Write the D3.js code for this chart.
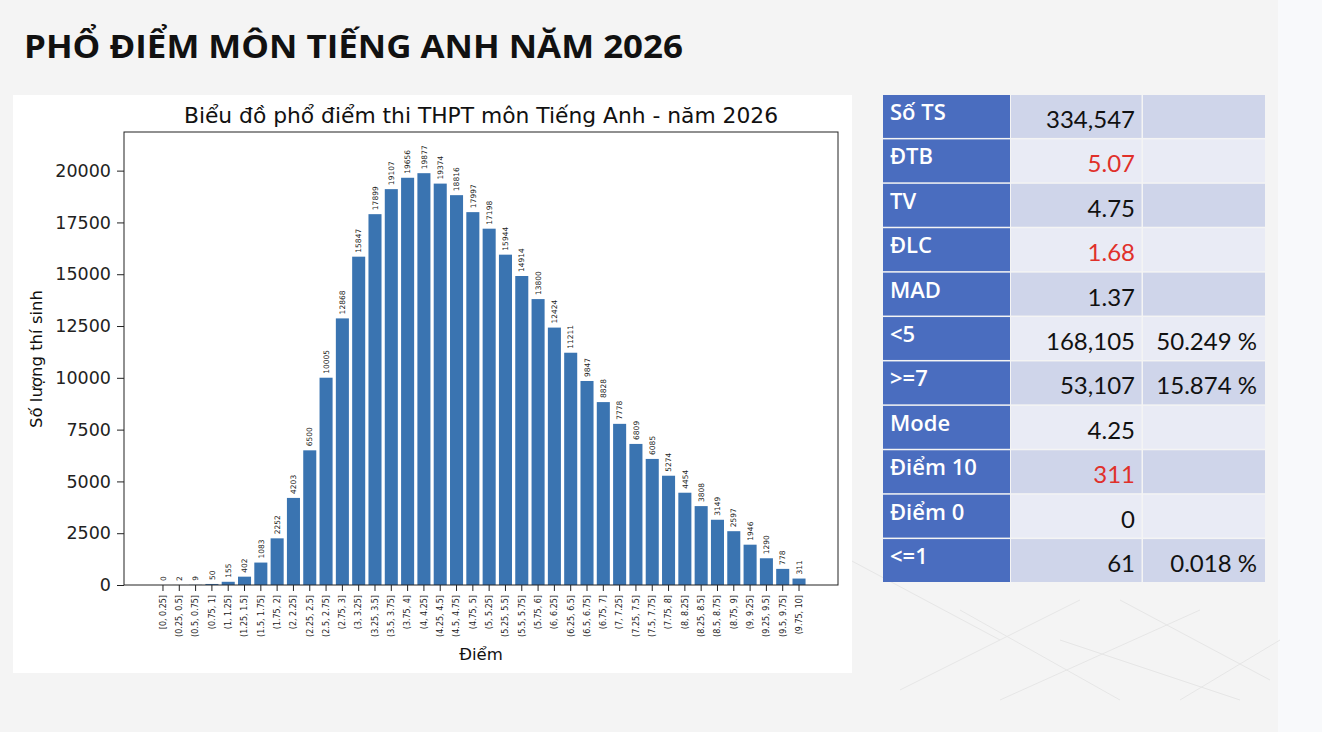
<!DOCTYPE html>
<html>
<head>
<meta charset="utf-8">
<script src="https://cdn.jsdelivr.net/npm/d3@7"></script>
<style>
  html, body { margin:0; padding:0; background:#f4f4f4; }
  svg { display:block; }
  .axis text { font-family:"DejaVu Sans", sans-serif; fill:#222; }
  .axis path, .axis line { stroke:#222; }
</style>
</head>
<body>
<svg id="chart" width="1322" height="732"></svg>
<script>
/* Dữ liệu phổ điểm */
const bins = ["[0, 0.25]","(0.25, 0.5]","(0.5, 0.75]","(0.75, 1]","(1, 1.25]","(1.25, 1.5]","(1.5, 1.75]","(1.75, 2]",
  "(2, 2.25]","(2.25, 2.5]","(2.5, 2.75]","(2.75, 3]","(3, 3.25]","(3.25, 3.5]","(3.5, 3.75]","(3.75, 4]",
  "(4, 4.25]","(4.25, 4.5]","(4.5, 4.75]","(4.75, 5]","(5, 5.25]","(5.25, 5.5]","(5.5, 5.75]","(5.75, 6]",
  "(6, 6.25]","(6.25, 6.5]","(6.5, 6.75]","(6.75, 7]","(7, 7.25]","(7.25, 7.5]","(7.5, 7.75]","(7.75, 8]",
  "(8, 8.25]","(8.25, 8.5]","(8.5, 8.75]","(8.75, 9]","(9, 9.25]","(9.25, 9.5]","(9.5, 9.75]","(9.75, 10]"];
const counts = [0,2,9,50,155,402,1083,2252,4203,6500,10005,12868,15847,17899,19107,19656,
  19877,19374,18816,17997,17198,15944,14914,13800,12424,11211,9847,8828,7778,6809,6085,5274,
  4454,3808,3149,2597,1946,1290,778,311];
const yTicks = [0,2500,5000,7500,10000,12500,15000,17500,20000];

/* Bảng thống kê */
const statLabels = ["Số TS","ĐTB","TV","ĐLC","MAD","<5",">=7","Mode","Điểm 10","Điểm 0","<=1"];
const statValues = ["334,547","5.07","4.75","1.68","1.37","168,105","53,107","4.25","311","0","61"];
const statPcts   = ["","","","","","50.249 %","15.874 %","","","","0.018 %"];
const statRed    = [false,true,false,true,false,false,false,false,true,false,false];

const svg = d3.select("#chart");

// nền trang: vùng xám + dải sáng bên phải
svg.append("rect").attr("x",0).attr("y",0).attr("width",1278).attr("height",732).attr("fill","#f4f4f4");
svg.append("rect").attr("x",1278).attr("y",0).attr("width",44).attr("height",732).attr("fill","#f8f9fb");

// đường trang trí mờ phía dưới bên phải
const deco = svg.append("g").attr("stroke","#e6e6e6").attr("stroke-width",1).attr("fill","none");
[[850,560,1000,640],[900,690,1080,600],[1000,700,1200,610],[1120,600,1270,680],[1180,700,1280,640],[960,610,1120,700],[1060,640,1240,700]]
  .forEach(l => deco.append("line").attr("x1",l[0]).attr("y1",l[1]).attr("x2",l[2]).attr("y2",l[3]));

// tiêu đề trang
svg.append("text")
  .attr("x",24).attr("y",58)
  .attr("font-family","'Open Sans', 'Noto Sans', sans-serif")
  .attr("font-weight","bold").attr("font-size",33)
  .attr("textLength",659).attr("lengthAdjust","spacingAndGlyphs")
  .attr("fill","#111")
  .text("PHỔ ĐIỂM MÔN TIẾNG ANH NĂM 2026");

/* ---------- biểu đồ cột ---------- */
svg.append("rect").attr("x",13).attr("y",95).attr("width",839).attr("height",578).attr("fill","#fff");

const plot = { left:124, right:838, top:132, bottom:585 };

const x = d3.scaleBand()
  .domain(bins)
  .range([plot.left, plot.right])
  .paddingInner(0.2)
  .paddingOuter(1.99);

const y = d3.scaleLinear()
  .domain([0, d3.max(counts) * 1.1])
  .range([plot.bottom, plot.top]);

const g = svg.append("g");

g.selectAll("rect.bar")
  .data(counts)
  .enter().append("rect")
  .attr("class","bar")
  .attr("x",(d,i) => x(bins[i]))
  .attr("y",d => y(d))
  .attr("width",x.bandwidth())
  .attr("height",d => plot.bottom - y(d))
  .attr("fill","#3a74b1");

g.selectAll("text.blabel")
  .data(counts)
  .enter().append("text")
  .attr("class","blabel")
  .attr("transform",(d,i) => `translate(${x(bins[i]) + x.bandwidth()/2 + 2.7},${y(d) - 4}) rotate(-90)`)
  .attr("font-family","'DejaVu Sans', sans-serif")
  .attr("font-size",7.5)
  .attr("fill","#222")
  .text(d => d);

// trục x
const xAxis = svg.append("g")
  .attr("class","axis")
  .attr("transform",`translate(0,${plot.bottom})`)
  .call(d3.axisBottom(x).tickSize(6).tickPadding(3));
xAxis.select(".domain").remove();
xAxis.selectAll("text")
  .attr("font-size",8)
  .attr("text-anchor","end")
  .attr("dy",null)
  .attr("transform","rotate(-90)")
  .attr("x",-10).attr("y",2.8);

// trục y
const yAxis = svg.append("g")
  .attr("class","axis")
  .attr("transform",`translate(${plot.left},0)`)
  .call(d3.axisLeft(y).tickValues(yTicks).tickSize(7).tickPadding(6).tickFormat(d3.format("d")));
yAxis.select(".domain").remove();
yAxis.selectAll("text").attr("font-size",17.5);

// khung
svg.append("rect")
  .attr("x",plot.left).attr("y",plot.top)
  .attr("width",plot.right - plot.left).attr("height",plot.bottom - plot.top)
  .attr("fill","none").attr("stroke","#222").attr("stroke-width",1);

svg.append("text")
  .attr("x",(plot.left + plot.right)/2).attr("y",123)
  .attr("text-anchor","middle")
  .attr("font-family","'DejaVu Sans', sans-serif").attr("font-size",21.8)
  .attr("fill","#111")
  .text("Biểu đồ phổ điểm thi THPT môn Tiếng Anh - năm 2026");

svg.append("text")
  .attr("x",(plot.left + plot.right)/2).attr("y",660)
  .attr("text-anchor","middle")
  .attr("font-family","'DejaVu Sans', sans-serif").attr("font-size",16.5)
  .attr("fill","#111")
  .text("Điểm");

svg.append("text")
  .attr("transform",`translate(42,359) rotate(-90)`)
  .attr("text-anchor","middle")
  .attr("font-family","'DejaVu Sans', sans-serif").attr("font-size",16.5)
  .attr("fill","#111")
  .text("Số lượng thí sinh");

/* ---------- bảng thống kê ---------- */
const cols = [883, 1011, 1143, 1265];
const rowY = d3.scaleBand().domain(d3.range(statLabels.length)).range([95, 583.5]);
const tbl = svg.append("g");

statLabels.forEach((lab, i) => {
  const top = rowY(i), h = rowY.bandwidth();
  const shade = i % 2 === 0 ? "#cfd5ea" : "#e9ebf5";
  tbl.append("rect").attr("x",cols[0]).attr("y",top).attr("width",cols[1]-cols[0]-1).attr("height",h-1.5).attr("fill","#4a6dbf");
  tbl.append("rect").attr("x",cols[1]).attr("y",top).attr("width",cols[2]-cols[1]-1.5).attr("height",h-1.5).attr("fill",shade);
  tbl.append("rect").attr("x",cols[2]).attr("y",top).attr("width",cols[3]-cols[2]).attr("height",h-1.5).attr("fill",shade);

  tbl.append("text")
    .attr("x",cols[0] + 7).attr("y",top + 25)
    .attr("font-family","'Open Sans', 'Noto Sans', sans-serif").attr("font-weight",600)
    .attr("font-size",22).attr("fill","#fff")
    .text(lab);

  tbl.append("text")
    .attr("x",cols[2] - 8).attr("y",top + 33)
    .attr("text-anchor","end")
    .attr("font-family","Lato, 'Open Sans', sans-serif")
    .attr("font-size",24).attr("fill",statRed[i] ? "#e0302a" : "#111")
    .text(statValues[i]);

  if(statPcts[i]){
    tbl.append("text")
      .attr("x",cols[3] - 8).attr("y",top + 33)
      .attr("text-anchor","end")
      .attr("font-family","Lato, 'Open Sans', sans-serif")
      .attr("font-size",24).attr("fill","#111")
      .text(statPcts[i]);
  }
});
</script>
</body>
</html>
